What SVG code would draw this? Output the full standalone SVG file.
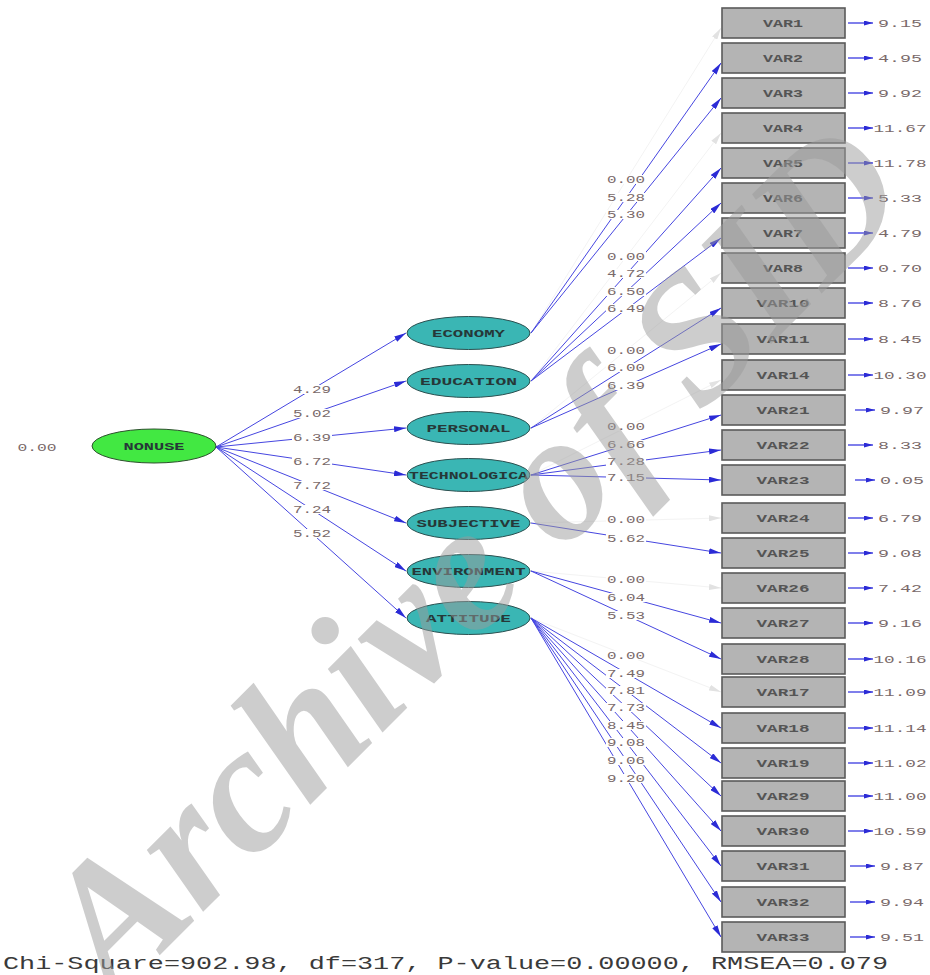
<svg xmlns="http://www.w3.org/2000/svg" width="930" height="975" viewBox="0 0 930 975">
<style>
.p{stroke:#4646e0;stroke-width:1;fill:none}
.f{stroke:#f3f3f3;stroke-width:1;fill:none}
.e{stroke:#3a3ae0;stroke-width:1.3;fill:none}
.n{font-family:"Liberation Mono",monospace;font-size:10px;fill:#7a6a6a}
.lb{fill:#ffffff}
.bx{fill:#b4b4b4;stroke:#5a5a5a;stroke-width:1.6}
.bt{font-family:"Liberation Mono",monospace;font-size:10px;fill:#555555;font-weight:bold}
.lat{fill:#3ab6b4;stroke:#2c5050;stroke-width:1}
.lt{font-family:"Liberation Mono",monospace;font-size:10px;fill:#263838;font-weight:bold}
.wm{font-family:"Liberation Serif",serif;font-weight:bold;font-style:italic;font-size:182px;fill:#9c9c9c;opacity:0.5}
</style>
<defs>
<marker id="ah" viewBox="0 0 12 6" refX="12" refY="3" markerWidth="12" markerHeight="6" markerUnits="userSpaceOnUse" orient="auto"><path d="M0,0 L12,3 L0,6 z" fill="#2b2bd6"/></marker>
<marker id="ahf" viewBox="0 0 12 6" refX="12" refY="3" markerWidth="12" markerHeight="6" markerUnits="userSpaceOnUse" orient="auto"><path d="M0,0 L12,3 L0,6 z" fill="#e2e2e2"/></marker>
<marker id="ahs" viewBox="0 0 9 5" refX="9" refY="2.5" markerWidth="9" markerHeight="5" markerUnits="userSpaceOnUse" orient="auto"><path d="M0,0 L9,2.5 L0,5 z" fill="#2b2bd6"/></marker>
</defs>
<rect width="930" height="975" fill="#ffffff"/>

<g id="connectors">
<line class="p" x1="216" y1="447" x2="406" y2="333" marker-end="url(#ah)"/>
<line class="p" x1="216" y1="447" x2="406" y2="381" marker-end="url(#ah)"/>
<line class="p" x1="216" y1="447" x2="406" y2="428" marker-end="url(#ah)"/>
<line class="p" x1="216" y1="447" x2="406" y2="475" marker-end="url(#ah)"/>
<line class="p" x1="216" y1="447" x2="406" y2="523" marker-end="url(#ah)"/>
<line class="p" x1="216" y1="447" x2="406" y2="571" marker-end="url(#ah)"/>
<line class="p" x1="216" y1="447" x2="406" y2="618" marker-end="url(#ah)"/>
<line class="f" x1="531" y1="333" x2="721" y2="28" marker-end="url(#ahf)"/>
<line class="p" x1="531" y1="333" x2="721" y2="63" marker-end="url(#ah)"/>
<line class="p" x1="531" y1="333" x2="721" y2="98" marker-end="url(#ah)"/>
<line class="f" x1="531" y1="381" x2="721" y2="133" marker-end="url(#ahf)"/>
<line class="p" x1="531" y1="381" x2="721" y2="168" marker-end="url(#ah)"/>
<line class="p" x1="531" y1="381" x2="721" y2="203" marker-end="url(#ah)"/>
<line class="p" x1="531" y1="381" x2="721" y2="238" marker-end="url(#ah)"/>
<line class="f" x1="531" y1="428" x2="721" y2="273" marker-end="url(#ahf)"/>
<line class="p" x1="531" y1="428" x2="721" y2="308" marker-end="url(#ah)"/>
<line class="p" x1="531" y1="428" x2="721" y2="344" marker-end="url(#ah)"/>
<line class="f" x1="531" y1="475" x2="721" y2="380" marker-end="url(#ahf)"/>
<line class="p" x1="531" y1="475" x2="721" y2="415" marker-end="url(#ah)"/>
<line class="p" x1="531" y1="475" x2="721" y2="450" marker-end="url(#ah)"/>
<line class="p" x1="531" y1="475" x2="721" y2="480" marker-end="url(#ah)"/>
<line class="f" x1="531" y1="523" x2="721" y2="518" marker-end="url(#ahf)"/>
<line class="p" x1="531" y1="523" x2="721" y2="553" marker-end="url(#ah)"/>
<line class="f" x1="531" y1="571" x2="721" y2="588" marker-end="url(#ahf)"/>
<line class="p" x1="531" y1="571" x2="721" y2="623" marker-end="url(#ah)"/>
<line class="p" x1="531" y1="571" x2="721" y2="659" marker-end="url(#ah)"/>
<line class="f" x1="531" y1="618" x2="721" y2="692" marker-end="url(#ahf)"/>
<line class="p" x1="531" y1="618" x2="721" y2="728" marker-end="url(#ah)"/>
<line class="p" x1="531" y1="618" x2="721" y2="763" marker-end="url(#ah)"/>
<line class="p" x1="531" y1="618" x2="721" y2="796" marker-end="url(#ah)"/>
<line class="p" x1="531" y1="618" x2="721" y2="831" marker-end="url(#ah)"/>
<line class="p" x1="531" y1="618" x2="721" y2="866" marker-end="url(#ah)"/>
<line class="p" x1="531" y1="618" x2="721" y2="902" marker-end="url(#ah)"/>
<line class="p" x1="531" y1="618" x2="721" y2="937" marker-end="url(#ah)"/>
<line class="e" x1="848" y1="23" x2="873" y2="23" marker-end="url(#ahs)"/>
<line class="e" x1="848" y1="58" x2="873" y2="58" marker-end="url(#ahs)"/>
<line class="e" x1="848" y1="93" x2="873" y2="93" marker-end="url(#ahs)"/>
<line class="e" x1="848" y1="128" x2="873" y2="128" marker-end="url(#ahs)"/>
<line class="e" x1="848" y1="163" x2="873" y2="163" marker-end="url(#ahs)"/>
<line class="e" x1="848" y1="198" x2="873" y2="198" marker-end="url(#ahs)"/>
<line class="e" x1="848" y1="233" x2="873" y2="233" marker-end="url(#ahs)"/>
<line class="e" x1="848" y1="268" x2="873" y2="268" marker-end="url(#ahs)"/>
<line class="e" x1="848" y1="303" x2="873" y2="303" marker-end="url(#ahs)"/>
<line class="e" x1="848" y1="339" x2="873" y2="339" marker-end="url(#ahs)"/>
<line class="e" x1="848" y1="375" x2="873" y2="375" marker-end="url(#ahs)"/>
<line class="e" x1="855" y1="410" x2="875" y2="410" marker-end="url(#ahs)"/>
<line class="e" x1="848" y1="445" x2="873" y2="445" marker-end="url(#ahs)"/>
<line class="e" x1="855" y1="480" x2="875" y2="480" marker-end="url(#ahs)"/>
<line class="e" x1="848" y1="518" x2="873" y2="518" marker-end="url(#ahs)"/>
<line class="e" x1="848" y1="553" x2="873" y2="553" marker-end="url(#ahs)"/>
<line class="e" x1="848" y1="588" x2="873" y2="588" marker-end="url(#ahs)"/>
<line class="e" x1="848" y1="623" x2="873" y2="623" marker-end="url(#ahs)"/>
<line class="e" x1="848" y1="659" x2="873" y2="659" marker-end="url(#ahs)"/>
<line class="e" x1="848" y1="692" x2="873" y2="692" marker-end="url(#ahs)"/>
<line class="e" x1="848" y1="728" x2="873" y2="728" marker-end="url(#ahs)"/>
<line class="e" x1="848" y1="763" x2="873" y2="763" marker-end="url(#ahs)"/>
<line class="e" x1="848" y1="796" x2="873" y2="796" marker-end="url(#ahs)"/>
<line class="e" x1="848" y1="831" x2="873" y2="831" marker-end="url(#ahs)"/>
<line class="e" x1="850" y1="866" x2="875" y2="866" marker-end="url(#ahs)"/>
<line class="e" x1="850" y1="902" x2="875" y2="902" marker-end="url(#ahs)"/>
<line class="e" x1="850" y1="937" x2="875" y2="937" marker-end="url(#ahs)"/>
</g>

<g id="path-labels">
<rect class="lb" x="292" y="385" width="40" height="9"/><text class="n" x="312" y="393" text-anchor="middle" textLength="38" lengthAdjust="spacingAndGlyphs">4.29</text>
<rect class="lb" x="292" y="409" width="40" height="9"/><text class="n" x="312" y="417" text-anchor="middle" textLength="38" lengthAdjust="spacingAndGlyphs">5.02</text>
<rect class="lb" x="292" y="433" width="40" height="9"/><text class="n" x="312" y="441" text-anchor="middle" textLength="38" lengthAdjust="spacingAndGlyphs">6.39</text>
<rect class="lb" x="292" y="457" width="40" height="9"/><text class="n" x="312" y="465" text-anchor="middle" textLength="38" lengthAdjust="spacingAndGlyphs">6.72</text>
<rect class="lb" x="292" y="481" width="40" height="9"/><text class="n" x="312" y="489" text-anchor="middle" textLength="38" lengthAdjust="spacingAndGlyphs">7.72</text>
<rect class="lb" x="292" y="505" width="40" height="9"/><text class="n" x="312" y="513" text-anchor="middle" textLength="38" lengthAdjust="spacingAndGlyphs">7.24</text>
<rect class="lb" x="292" y="529" width="40" height="9"/><text class="n" x="312" y="537" text-anchor="middle" textLength="38" lengthAdjust="spacingAndGlyphs">5.52</text>
<rect class="lb" x="606" y="175" width="40" height="9"/><text class="n" x="626" y="183" text-anchor="middle" textLength="38" lengthAdjust="spacingAndGlyphs">0.00</text>
<rect class="lb" x="606" y="193" width="40" height="9"/><text class="n" x="626" y="201" text-anchor="middle" textLength="38" lengthAdjust="spacingAndGlyphs">5.28</text>
<rect class="lb" x="606" y="210" width="40" height="9"/><text class="n" x="626" y="218" text-anchor="middle" textLength="38" lengthAdjust="spacingAndGlyphs">5.30</text>
<rect class="lb" x="606" y="252" width="40" height="9"/><text class="n" x="626" y="260" text-anchor="middle" textLength="38" lengthAdjust="spacingAndGlyphs">0.00</text>
<rect class="lb" x="606" y="269" width="40" height="9"/><text class="n" x="626" y="277" text-anchor="middle" textLength="38" lengthAdjust="spacingAndGlyphs">4.72</text>
<rect class="lb" x="606" y="287" width="40" height="9"/><text class="n" x="626" y="295" text-anchor="middle" textLength="38" lengthAdjust="spacingAndGlyphs">6.50</text>
<rect class="lb" x="606" y="304" width="40" height="9"/><text class="n" x="626" y="312" text-anchor="middle" textLength="38" lengthAdjust="spacingAndGlyphs">6.49</text>
<rect class="lb" x="606" y="346" width="40" height="9"/><text class="n" x="626" y="354" text-anchor="middle" textLength="38" lengthAdjust="spacingAndGlyphs">0.00</text>
<rect class="lb" x="606" y="363" width="40" height="9"/><text class="n" x="626" y="371" text-anchor="middle" textLength="38" lengthAdjust="spacingAndGlyphs">6.00</text>
<rect class="lb" x="606" y="381" width="40" height="9"/><text class="n" x="626" y="389" text-anchor="middle" textLength="38" lengthAdjust="spacingAndGlyphs">6.39</text>
<rect class="lb" x="606" y="422" width="40" height="9"/><text class="n" x="626" y="430" text-anchor="middle" textLength="38" lengthAdjust="spacingAndGlyphs">0.00</text>
<rect class="lb" x="606" y="440" width="40" height="9"/><text class="n" x="626" y="448" text-anchor="middle" textLength="38" lengthAdjust="spacingAndGlyphs">6.66</text>
<rect class="lb" x="606" y="457" width="40" height="9"/><text class="n" x="626" y="465" text-anchor="middle" textLength="38" lengthAdjust="spacingAndGlyphs">7.28</text>
<rect class="lb" x="606" y="473" width="40" height="9"/><text class="n" x="626" y="481" text-anchor="middle" textLength="38" lengthAdjust="spacingAndGlyphs">7.15</text>
<rect class="lb" x="606" y="515" width="40" height="9"/><text class="n" x="626" y="523" text-anchor="middle" textLength="38" lengthAdjust="spacingAndGlyphs">0.00</text>
<rect class="lb" x="606" y="534" width="40" height="9"/><text class="n" x="626" y="542" text-anchor="middle" textLength="38" lengthAdjust="spacingAndGlyphs">5.62</text>
<rect class="lb" x="606" y="575" width="40" height="9"/><text class="n" x="626" y="583" text-anchor="middle" textLength="38" lengthAdjust="spacingAndGlyphs">0.00</text>
<rect class="lb" x="606" y="593" width="40" height="9"/><text class="n" x="626" y="601" text-anchor="middle" textLength="38" lengthAdjust="spacingAndGlyphs">6.04</text>
<rect class="lb" x="606" y="611" width="40" height="9"/><text class="n" x="626" y="619" text-anchor="middle" textLength="38" lengthAdjust="spacingAndGlyphs">5.53</text>
<rect class="lb" x="606" y="651" width="40" height="9"/><text class="n" x="626" y="659" text-anchor="middle" textLength="38" lengthAdjust="spacingAndGlyphs">0.00</text>
<rect class="lb" x="606" y="669" width="40" height="9"/><text class="n" x="626" y="677" text-anchor="middle" textLength="38" lengthAdjust="spacingAndGlyphs">7.49</text>
<rect class="lb" x="606" y="686" width="40" height="9"/><text class="n" x="626" y="694" text-anchor="middle" textLength="38" lengthAdjust="spacingAndGlyphs">7.81</text>
<rect class="lb" x="606" y="703" width="40" height="9"/><text class="n" x="626" y="711" text-anchor="middle" textLength="38" lengthAdjust="spacingAndGlyphs">7.73</text>
<rect class="lb" x="606" y="721" width="40" height="9"/><text class="n" x="626" y="729" text-anchor="middle" textLength="38" lengthAdjust="spacingAndGlyphs">8.45</text>
<rect class="lb" x="606" y="738" width="40" height="9"/><text class="n" x="626" y="746" text-anchor="middle" textLength="38" lengthAdjust="spacingAndGlyphs">9.08</text>
<rect class="lb" x="606" y="756" width="40" height="9"/><text class="n" x="626" y="764" text-anchor="middle" textLength="38" lengthAdjust="spacingAndGlyphs">9.06</text>
<rect class="lb" x="606" y="774" width="40" height="9"/><text class="n" x="626" y="782" text-anchor="middle" textLength="38" lengthAdjust="spacingAndGlyphs">9.20</text>
</g>

<g id="node-NONUSE">
<ellipse cx="154" cy="446" rx="62" ry="17" fill="#42e842" stroke="#2e502e" stroke-width="1"/>
<text class="lt" x="154" y="450" text-anchor="middle" textLength="61" lengthAdjust="spacingAndGlyphs" fill="#224422">NONUSE</text>
<text class="n" x="37" y="451" text-anchor="middle" textLength="39" lengthAdjust="spacingAndGlyphs">0.00</text>
</g>

<g id="node-ECONOMY"><ellipse class="lat" cx="468.5" cy="333" rx="61.5" ry="16.5"/><text class="lt" x="468.5" y="337" text-anchor="middle" textLength="73" lengthAdjust="spacingAndGlyphs">ECONOMY</text></g>
<g id="node-EDUCATION"><ellipse class="lat" cx="468.5" cy="381" rx="61.5" ry="16.5"/><text class="lt" x="468.5" y="385" text-anchor="middle" textLength="97" lengthAdjust="spacingAndGlyphs">EDUCATION</text></g>
<g id="node-PERSONAL"><ellipse class="lat" cx="468.5" cy="428" rx="61.5" ry="16.5"/><text class="lt" x="468.5" y="432" text-anchor="middle" textLength="84" lengthAdjust="spacingAndGlyphs">PERSONAL</text></g>
<g id="node-TECHNOLOGICA"><ellipse class="lat" cx="468.5" cy="475" rx="61.5" ry="16.5"/><text class="lt" x="468.5" y="479" text-anchor="middle" textLength="119" lengthAdjust="spacingAndGlyphs">TECHNOLOGICA</text></g>
<g id="node-SUBJECTIVE"><ellipse class="lat" cx="468.5" cy="523" rx="61.5" ry="16.5"/><text class="lt" x="468.5" y="527" text-anchor="middle" textLength="104" lengthAdjust="spacingAndGlyphs">SUBJECTIVE</text></g>
<g id="node-ENVIRONMENT"><ellipse class="lat" cx="468.5" cy="571" rx="61.5" ry="16.5"/><text class="lt" x="468.5" y="575" text-anchor="middle" textLength="114" lengthAdjust="spacingAndGlyphs">ENVIRONMENT</text></g>
<g id="node-ATTITUDE"><ellipse class="lat" cx="468.5" cy="618" rx="61.5" ry="16.5"/><text class="lt" x="468.5" y="622" text-anchor="middle" textLength="85" lengthAdjust="spacingAndGlyphs">ATTITUDE</text></g>

<g id="node-VAR1"><rect class="bx" x="722" y="8" width="123" height="30"/><text class="bt" x="783" y="27" text-anchor="middle" textLength="40" lengthAdjust="spacingAndGlyphs">VAR1</text><text class="n" x="900" y="27" text-anchor="middle" textLength="44" lengthAdjust="spacingAndGlyphs">9.15</text></g>
<g id="node-VAR2"><rect class="bx" x="722" y="43" width="123" height="30"/><text class="bt" x="783" y="62" text-anchor="middle" textLength="40" lengthAdjust="spacingAndGlyphs">VAR2</text><text class="n" x="900" y="62" text-anchor="middle" textLength="44" lengthAdjust="spacingAndGlyphs">4.95</text></g>
<g id="node-VAR3"><rect class="bx" x="722" y="78" width="123" height="30"/><text class="bt" x="783" y="97" text-anchor="middle" textLength="40" lengthAdjust="spacingAndGlyphs">VAR3</text><text class="n" x="900" y="97" text-anchor="middle" textLength="44" lengthAdjust="spacingAndGlyphs">9.92</text></g>
<g id="node-VAR4"><rect class="bx" x="722" y="113" width="123" height="30"/><text class="bt" x="783" y="132" text-anchor="middle" textLength="40" lengthAdjust="spacingAndGlyphs">VAR4</text><text class="n" x="900" y="132" text-anchor="middle" textLength="53" lengthAdjust="spacingAndGlyphs">11.67</text></g>
<g id="node-VAR5"><rect class="bx" x="722" y="148" width="123" height="30"/><text class="bt" x="783" y="167" text-anchor="middle" textLength="40" lengthAdjust="spacingAndGlyphs">VAR5</text><text class="n" x="900" y="167" text-anchor="middle" textLength="53" lengthAdjust="spacingAndGlyphs">11.78</text></g>
<g id="node-VAR6"><rect class="bx" x="722" y="183" width="123" height="30"/><text class="bt" x="783" y="202" text-anchor="middle" textLength="40" lengthAdjust="spacingAndGlyphs">VAR6</text><text class="n" x="900" y="202" text-anchor="middle" textLength="44" lengthAdjust="spacingAndGlyphs">5.33</text></g>
<g id="node-VAR7"><rect class="bx" x="722" y="218" width="123" height="30"/><text class="bt" x="783" y="237" text-anchor="middle" textLength="40" lengthAdjust="spacingAndGlyphs">VAR7</text><text class="n" x="900" y="237" text-anchor="middle" textLength="44" lengthAdjust="spacingAndGlyphs">4.79</text></g>
<g id="node-VAR8"><rect class="bx" x="722" y="253" width="123" height="30"/><text class="bt" x="783" y="272" text-anchor="middle" textLength="40" lengthAdjust="spacingAndGlyphs">VAR8</text><text class="n" x="900" y="272" text-anchor="middle" textLength="44" lengthAdjust="spacingAndGlyphs">0.70</text></g>
<g id="node-VAR10"><rect class="bx" x="722" y="288" width="123" height="30"/><text class="bt" x="783" y="307" text-anchor="middle" textLength="53" lengthAdjust="spacingAndGlyphs">VAR10</text><text class="n" x="900" y="307" text-anchor="middle" textLength="44" lengthAdjust="spacingAndGlyphs">8.76</text></g>
<g id="node-VAR11"><rect class="bx" x="722" y="324" width="123" height="30"/><text class="bt" x="783" y="343" text-anchor="middle" textLength="53" lengthAdjust="spacingAndGlyphs">VAR11</text><text class="n" x="900" y="343" text-anchor="middle" textLength="44" lengthAdjust="spacingAndGlyphs">8.45</text></g>
<g id="node-VAR14"><rect class="bx" x="722" y="360" width="123" height="30"/><text class="bt" x="783" y="379" text-anchor="middle" textLength="53" lengthAdjust="spacingAndGlyphs">VAR14</text><text class="n" x="900" y="379" text-anchor="middle" textLength="53" lengthAdjust="spacingAndGlyphs">10.30</text></g>
<g id="node-VAR21"><rect class="bx" x="722" y="395" width="123" height="30"/><text class="bt" x="783" y="414" text-anchor="middle" textLength="53" lengthAdjust="spacingAndGlyphs">VAR21</text><text class="n" x="902" y="414" text-anchor="middle" textLength="44" lengthAdjust="spacingAndGlyphs">9.97</text></g>
<g id="node-VAR22"><rect class="bx" x="722" y="430" width="123" height="30"/><text class="bt" x="783" y="449" text-anchor="middle" textLength="53" lengthAdjust="spacingAndGlyphs">VAR22</text><text class="n" x="900" y="449" text-anchor="middle" textLength="44" lengthAdjust="spacingAndGlyphs">8.33</text></g>
<g id="node-VAR23"><rect class="bx" x="722" y="465" width="123" height="30"/><text class="bt" x="783" y="484" text-anchor="middle" textLength="53" lengthAdjust="spacingAndGlyphs">VAR23</text><text class="n" x="902" y="484" text-anchor="middle" textLength="44" lengthAdjust="spacingAndGlyphs">0.05</text></g>
<g id="node-VAR24"><rect class="bx" x="722" y="503" width="123" height="30"/><text class="bt" x="783" y="522" text-anchor="middle" textLength="53" lengthAdjust="spacingAndGlyphs">VAR24</text><text class="n" x="900" y="522" text-anchor="middle" textLength="44" lengthAdjust="spacingAndGlyphs">6.79</text></g>
<g id="node-VAR25"><rect class="bx" x="722" y="538" width="123" height="30"/><text class="bt" x="783" y="557" text-anchor="middle" textLength="53" lengthAdjust="spacingAndGlyphs">VAR25</text><text class="n" x="900" y="557" text-anchor="middle" textLength="44" lengthAdjust="spacingAndGlyphs">9.08</text></g>
<g id="node-VAR26"><rect class="bx" x="722" y="573" width="123" height="30"/><text class="bt" x="783" y="592" text-anchor="middle" textLength="53" lengthAdjust="spacingAndGlyphs">VAR26</text><text class="n" x="900" y="592" text-anchor="middle" textLength="44" lengthAdjust="spacingAndGlyphs">7.42</text></g>
<g id="node-VAR27"><rect class="bx" x="722" y="608" width="123" height="30"/><text class="bt" x="783" y="627" text-anchor="middle" textLength="53" lengthAdjust="spacingAndGlyphs">VAR27</text><text class="n" x="900" y="627" text-anchor="middle" textLength="44" lengthAdjust="spacingAndGlyphs">9.16</text></g>
<g id="node-VAR28"><rect class="bx" x="722" y="644" width="123" height="30"/><text class="bt" x="783" y="663" text-anchor="middle" textLength="53" lengthAdjust="spacingAndGlyphs">VAR28</text><text class="n" x="900" y="663" text-anchor="middle" textLength="53" lengthAdjust="spacingAndGlyphs">10.16</text></g>
<g id="node-VAR17"><rect class="bx" x="722" y="677" width="123" height="30"/><text class="bt" x="783" y="696" text-anchor="middle" textLength="53" lengthAdjust="spacingAndGlyphs">VAR17</text><text class="n" x="900" y="696" text-anchor="middle" textLength="53" lengthAdjust="spacingAndGlyphs">11.09</text></g>
<g id="node-VAR18"><rect class="bx" x="722" y="713" width="123" height="30"/><text class="bt" x="783" y="732" text-anchor="middle" textLength="53" lengthAdjust="spacingAndGlyphs">VAR18</text><text class="n" x="900" y="732" text-anchor="middle" textLength="53" lengthAdjust="spacingAndGlyphs">11.14</text></g>
<g id="node-VAR19"><rect class="bx" x="722" y="748" width="123" height="30"/><text class="bt" x="783" y="767" text-anchor="middle" textLength="53" lengthAdjust="spacingAndGlyphs">VAR19</text><text class="n" x="900" y="767" text-anchor="middle" textLength="53" lengthAdjust="spacingAndGlyphs">11.02</text></g>
<g id="node-VAR29"><rect class="bx" x="722" y="781" width="123" height="30"/><text class="bt" x="783" y="800" text-anchor="middle" textLength="53" lengthAdjust="spacingAndGlyphs">VAR29</text><text class="n" x="900" y="800" text-anchor="middle" textLength="53" lengthAdjust="spacingAndGlyphs">11.00</text></g>
<g id="node-VAR30"><rect class="bx" x="722" y="816" width="123" height="30"/><text class="bt" x="783" y="835" text-anchor="middle" textLength="53" lengthAdjust="spacingAndGlyphs">VAR30</text><text class="n" x="900" y="835" text-anchor="middle" textLength="53" lengthAdjust="spacingAndGlyphs">10.59</text></g>
<g id="node-VAR31"><rect class="bx" x="722" y="851" width="123" height="30"/><text class="bt" x="783" y="870" text-anchor="middle" textLength="53" lengthAdjust="spacingAndGlyphs">VAR31</text><text class="n" x="902" y="870" text-anchor="middle" textLength="44" lengthAdjust="spacingAndGlyphs">9.87</text></g>
<g id="node-VAR32"><rect class="bx" x="722" y="887" width="123" height="30"/><text class="bt" x="783" y="906" text-anchor="middle" textLength="53" lengthAdjust="spacingAndGlyphs">VAR32</text><text class="n" x="902" y="906" text-anchor="middle" textLength="44" lengthAdjust="spacingAndGlyphs">9.94</text></g>
<g id="node-VAR33"><rect class="bx" x="722" y="922" width="123" height="30"/><text class="bt" x="783" y="941" text-anchor="middle" textLength="53" lengthAdjust="spacingAndGlyphs">VAR33</text><text class="n" x="902" y="941" text-anchor="middle" textLength="44" lengthAdjust="spacingAndGlyphs">9.51</text></g>

<text x="3" y="969" font-family="Liberation Mono, monospace" font-size="18" fill="#3a3a3a" textLength="885" lengthAdjust="spacingAndGlyphs">Chi-Square=902.98, df=317, P-value=0.00000, RMSEA=0.079</text>

<g id="watermark">
<text class="wm" x="0" y="0" text-anchor="middle" transform="translate(515,600) rotate(-45)">Archive of SID</text>
</g>
</svg>
